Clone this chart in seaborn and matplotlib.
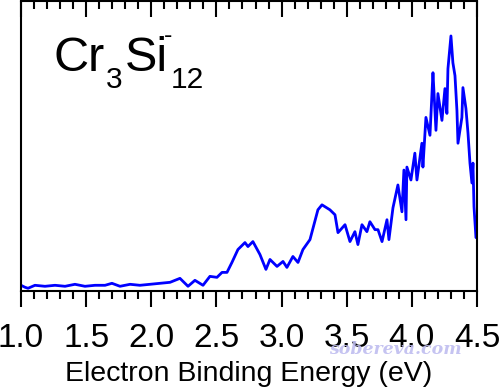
import numpy as np
import pandas as pd
import matplotlib
matplotlib.use("Agg")
import matplotlib.pyplot as plt
import seaborn as sns
from matplotlib.ticker import MultipleLocator

# photoelectron spectrum (intensity in arbitrary units)
energy = [1.000, 1.031, 1.054, 1.107, 1.184, 1.261, 1.338, 1.414, 1.491, 1.568,
          1.645, 1.698, 1.760, 1.837, 1.913, 1.990, 2.067, 2.144, 2.220, 2.282,
          2.335, 2.397, 2.450, 2.504, 2.543, 2.581, 2.619, 2.665, 2.719, 2.742,
          2.780, 2.834, 2.880, 2.911, 2.965, 3.011, 3.041, 3.087, 3.126, 3.164,
          3.218, 3.279, 3.310, 3.371, 3.410, 3.433, 3.487, 3.525, 3.563, 3.586,
          3.617, 3.655, 3.678, 3.717, 3.740, 3.771, 3.809, 3.824, 3.855, 3.893,
          3.924, 3.939, 3.955, 3.962, 3.993, 4.023, 4.039, 4.077, 4.085, 4.108,
          4.139, 4.162, 4.170, 4.185, 4.200, 4.231, 4.254, 4.269, 4.277, 4.300,
          4.315, 4.331, 4.346, 4.354, 4.384, 4.392, 4.415, 4.431, 4.446, 4.461,
          4.469, 4.477, 4.492]
intensity = [6, 4, 3, 6, 5, 6, 5, 7, 5, 6,
             6, 8, 5, 7, 6, 7, 8, 9, 13, 5,
             11, 6, 15, 14, 19, 19, 29, 42, 49, 45,
             50, 37, 22, 32, 25, 30, 24, 35, 29, 42,
             52, 82, 87, 82, 77, 59, 67, 50, 60, 47,
             67, 60, 70, 62, 62, 50, 72, 52, 84, 107,
             80, 122, 72, 125, 112, 139, 112, 149, 125, 175,
             157, 220, 200, 162, 199, 172, 204, 179, 224, 257,
             230, 217, 182, 149, 175, 205, 184, 159, 129, 109,
             129, 85, 54]

df = pd.DataFrame({"energy": energy, "intensity": intensity})

sns.set_style("ticks")
plt.rcParams["font.family"] = ["Liberation Sans", "DejaVu Sans"]
plt.rcParams["text.color"] = "black"
plt.rcParams["axes.labelcolor"] = "black"
plt.rcParams["xtick.color"] = "black"

W, H = 500, 392
fig = plt.figure(figsize=(W / 100, H / 100), dpi=100)
ax = fig.add_axes([0.042, 0.257, 0.912, 0.740])

sns.lineplot(data=df, x="energy", y="intensity", ax=ax, color="#0000ff", linewidth=2.0)

ax.set_xlim(1.0, 4.5)
ax.set_ylim(0, 292)
ax.set_yticks([])
ax.set_ylabel("")
ax.set_xlabel("Electron Binding Energy (eV)", fontsize=20.5, labelpad=5.5)

for s in ax.spines.values():
    s.set_visible(True)
    s.set_linewidth(1.5)
    s.set_color("black")

ax.xaxis.set_major_locator(MultipleLocator(0.5))
ax.xaxis.set_minor_locator(MultipleLocator(0.1))
ax.xaxis.set_major_formatter(plt.FormatStrFormatter("%.1f"))
ax.tick_params(axis="x", which="major", direction="out", length=11.5, width=1.5,
               labelsize=24, pad=11, top=True)
ax.tick_params(axis="x", which="minor", direction="out", length=6, width=1.5, top=True)
# top ticks point inward
for t in ax.xaxis.get_major_ticks() + ax.xaxis.get_minor_ticks():
    t.tick2line.set_marker(3)


def px(x, y):
    return x / W, 1 - y / H


# cluster label Cr3Si12-, pieces placed at their baselines
fig.text(*px(54, 71), "Cr", fontsize=35, va="baseline")
fig.text(*px(106, 88), "3", fontsize=21.5, va="baseline")
fig.text(*px(125, 71), "Si", fontsize=35, va="baseline")
fig.text(*px(164, 43), "-", fontsize=18, va="baseline")
fig.text(*px(171, 88), "12", fontsize=21.5, va="baseline")

fig.text(*px(395, 349), "sobereva.com", color="#bfbdf0", fontsize=12.5, alpha=0.9,
         family="DejaVu Serif", style="italic", weight="bold", ha="center", va="center")

fig.savefig("out.png", dpi=100)
